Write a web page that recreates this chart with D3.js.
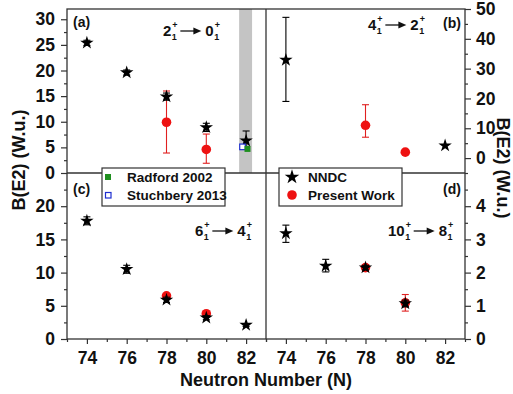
<!DOCTYPE html>
<html><head><meta charset="utf-8">
<script src="https://cdn.jsdelivr.net/npm/d3@7"></script>
<style>
body{margin:0;background:#fff}
svg text{font-family:'Liberation Sans',Arial,sans-serif;font-weight:bold;fill:#111}
</style>
</head><body><svg id="c" width="513" height="394"></svg>
<script>
// ---------- data ----------
const xTicks=[74,76,78,80,82];
const xMinor=[73,75,77,79,81,83];
// (a) 2+ -> 0+
const aNNDC_N=[74,76,78,80,82];
const aNNDC=[25.4,19.6,14.9,8.9,6.3];
const aNNDC_lo=[24.9,19.1,14.2,8.1,4.6];
const aNNDC_hi=[25.9,20.1,15.6,9.7,8.2];
const aPW_N=[78,80];
const aPW=[9.9,4.6];
const aPW_lo=[3.9,1.9];
const aPW_hi=[16.0,7.6];
const radfordN=[82.07], radford=[4.7];
const stuchN=[81.82], stuch=[5.1];
const bandN=[81.65,82.3];
const aTicks=[0,5,10,15,20,25,30], aMinor=[2.5,7.5,12.5,17.5,22.5,27.5];
// (b) 4+ -> 2+
const bNNDC_N=[74,82];
const bNNDC=[32.9,4.2];
const bNNDC_lo=[19.0,4.2];
const bNNDC_hi=[47.2,4.2];
const bPW_N=[78,80];
const bPW=[11.0,2.0];
const bPW_lo=[7.0,2.0];
const bPW_hi=[17.9,2.0];
const bTicks=[0,10,20,30,40,50], bMinor=[-5,5,15,25,35,45];
// (c) 6+ -> 4+
const cNNDC_N=[74,76,78,80,82];
const cNNDC=[17.8,10.5,5.9,3.2,2.1];
const cNNDC_lo=[17.2,9.9,5.5,2.9,1.9];
const cNNDC_hi=[18.4,11.1,6.3,3.5,2.3];
const cPW_N=[78,80];
const cPW=[6.5,3.8];
const cPW_lo=[6.2,3.5];
const cPW_hi=[6.8,4.1];
const cTicks=[0,5,10,15,20], cMinor=[2.5,7.5,12.5,17.5,22.5];
// (d) 10+ -> 8+
const dNNDC_N=[74,76,78,80];
const dNNDC=[3.18,2.2,2.15,1.07];
const dNNDC_lo=[2.91,2.02,2.08,0.97];
const dNNDC_hi=[3.43,2.4,2.22,1.17];
const dPW_N=[78,80];
const dPW=[2.15,1.09];
const dPW_lo=[2.08,0.84];
const dPW_hi=[2.22,1.34];
const dTicks=[0,1,2,3,4], dMinor=[0.5,1.5,2.5,3.5,4.5];

// ---------- layout ----------
const svg=d3.select('#c');
const L=67,M=266,R=465,T=9,H=173,B=339;
const xL=d3.scaleLinear([73,83],[L,M]);
const xR=d3.scaleLinear([73,83],[M,R]);
const yA=d3.scaleLinear([0,32],[H,T]);
const yB=d3.scaleLinear([-5,50],[H,T]);
const yC=d3.scaleLinear([0,25],[B,H]);
const yD=d3.scaleLinear([0,5],[B,H]);
const FRAME='#333';

// gray band
svg.append('rect').attr('x',xL(bandN[0])).attr('y',T).attr('width',xL(bandN[1])-xL(bandN[0])).attr('height',H-T).attr('fill','#c4c4c4');

function axis(gen,tr,major,minor,size,pad,fs){
  const g=svg.append('g').attr('transform',tr);
  g.call(gen.tickValues(major).tickSize(size).tickPadding(pad).tickFormat(d3.format('d')));
  g.select('.domain').remove();
  g.selectAll('line').attr('stroke',FRAME).attr('stroke-width',1.2);
  g.selectAll('text').style('font-size',fs+'px').attr('fill','#111');
  const g2=svg.append('g').attr('transform',tr);
  g2.call(gen.tickValues(minor).tickSize(3).tickFormat(''));
  g2.select('.domain').remove();
  g2.selectAll('line').attr('stroke',FRAME).attr('stroke-width',1.2);
  return g;
}
axis(d3.axisLeft(yA),`translate(${L},0)`,aTicks,aMinor,6,6,17.5);
axis(d3.axisLeft(yC),`translate(${L},0)`,cTicks,cMinor,6,6,17.5);
axis(d3.axisRight(yB),`translate(${R},0)`,bTicks,bMinor,6,5,17.5);
axis(d3.axisRight(yD),`translate(${R},0)`,dTicks,dMinor,6,5,17.5);
axis(d3.axisBottom(xL),`translate(0,${B})`,xTicks,xMinor,5,8,17.5);
axis(d3.axisBottom(xR),`translate(0,${B})`,xTicks,xMinor,5,8,17.5);

// frame
svg.append('rect').attr('x',L).attr('y',T).attr('width',R-L).attr('height',B-T).attr('fill','none').attr('stroke',FRAME).attr('stroke-width',1.3);
svg.append('line').attr('x1',M).attr('x2',M).attr('y1',T).attr('y2',B).attr('stroke',FRAME).attr('stroke-width',1.3);
svg.append('line').attr('x1',L).attr('x2',R).attr('y1',H).attr('y2',H).attr('stroke',FRAME).attr('stroke-width',1.3);

// marks
const star=d3.symbol().type(d3.symbolStar).size(56);
function errbars(x,y,N,lo,hi,color){
  const g=svg.append('g').attr('stroke',color).attr('stroke-width',1.1);
  N.forEach((n,i)=>{
    if(hi[i]-lo[i]<=0) return;
    const cx=x(n);
    g.append('line').attr('x1',cx).attr('x2',cx).attr('y1',y(lo[i])).attr('y2',y(hi[i]));
    g.append('line').attr('x1',cx-3.5).attr('x2',cx+3.5).attr('y1',y(lo[i])).attr('y2',y(lo[i]));
    g.append('line').attr('x1',cx-3.5).attr('x2',cx+3.5).attr('y1',y(hi[i])).attr('y2',y(hi[i]));
  });
}
function circles(x,y,N,v){
  svg.append('g').selectAll('circle').data(N).join('circle')
    .attr('cx',d=>x(d)).attr('cy',(d,i)=>y(v[i])).attr('r',4.8).attr('fill','#ee1111');
}
function stars(x,y,N,v){
  svg.append('g').selectAll('path').data(N).join('path')
    .attr('d',star).attr('transform',(d,i)=>`translate(${x(d)},${y(v[i])})`).attr('fill','#000');
}
function panel(x,y,nN,nv,nlo,nhi,pN,pv,plo,phi){
  errbars(x,y,pN,plo,phi,'#e02020');
  circles(x,y,pN,pv);
  errbars(x,y,nN,nlo,nhi,'#000');
  stars(x,y,nN,nv);
}
panel(xL,yA,aNNDC_N,aNNDC,aNNDC_lo,aNNDC_hi,aPW_N,aPW,aPW_lo,aPW_hi);
// Stuchbery (open blue square) and Radford (green square)
svg.append('g').selectAll('rect').data(stuchN).join('rect')
  .attr('x',d=>xL(d)-2.8).attr('y',(d,i)=>yA(stuch[i])-2.8).attr('width',5.6).attr('height',5.6)
  .attr('fill','#fff').attr('stroke','#1f2fd0').attr('stroke-width',1.2);
svg.append('g').selectAll('rect').data(radfordN).join('rect')
  .attr('x',d=>xL(d)-3).attr('y',(d,i)=>yA(radford[i])-3).attr('width',6).attr('height',6)
  .attr('fill','#1f8f1f');
panel(xR,yB,bNNDC_N,bNNDC,bNNDC_lo,bNNDC_hi,bPW_N,bPW,bPW_lo,bPW_hi);
panel(xL,yC,cNNDC_N,cNNDC,cNNDC_lo,cNNDC_hi,cPW_N,cPW,cPW_lo,cPW_hi);
panel(xR,yD,dNNDC_N,dNNDC,dNNDC_lo,dNNDC_hi,dPW_N,dPW,dPW_lo,dPW_hi);

// panel letters
[['(a)',73,27,'start'],['(b)',461,28,'end'],['(c)',73,194,'start'],['(d)',461,194,'end']].forEach(p=>{
  svg.append('text').attr('x',p[1]).attr('y',p[2]).attr('text-anchor',p[3]).style('font-size','14px').text(p[0]);
});

// transition labels
function trans(x,y,a,b){
  const g=svg.append('g');
  let cx=x;
  function level(v){
    const t=g.append('text').attr('x',cx).attr('y',y).style('font-size','15px').text(v);
    cx+=t.node().getComputedTextLength();
    g.append('text').attr('x',cx+0.5).attr('y',y+4).style('font-size','9px').text('1');
    g.append('text').attr('x',cx+1).attr('y',y-8).style('font-size','9px').text('+');
    cx+=7;
  }
  level(a);
  g.append('line').attr('x1',cx+2).attr('x2',cx+18).attr('y1',y-5).attr('y2',y-5).attr('stroke','#111').attr('stroke-width',1.3);
  g.append('path').attr('d',`M${cx+23},${y-5} L${cx+15},${y-8.5} L${cx+15},${y-1.5} Z`).attr('fill','#111');
  cx+=27;
  level(b);
}
trans(163,36,'2','0');
trans(368,30,'4','2');
trans(195,236,'6','4');
trans(388,236,'10','8');

// legends
function legend(x,y,w,h){
  svg.append('rect').attr('x',x).attr('y',y).attr('width',w).attr('height',h).attr('fill','#fff').attr('stroke',FRAME).attr('stroke-width',1.2);
}
legend(102,168,123,38);
legend(279,168,123,38);
svg.append('rect').attr('x',105).attr('y',174).attr('width',6).attr('height',6).attr('fill','#1f8f1f');
svg.append('rect').attr('x',105.5).attr('y',192.5).attr('width',5.5).attr('height',5.5).attr('fill','#fff').attr('stroke','#1f2fd0').attr('stroke-width',1.2);
svg.append('text').attr('x',127).attr('y',182).style('font-size','13.5px').text('Radford 2002');
svg.append('text').attr('x',127).attr('y',200).style('font-size','13.5px').text('Stuchbery 2013');
svg.append('path').attr('d',d3.symbol().type(d3.symbolStar).size(66)()).attr('transform','translate(292,177)').attr('fill','#000');
svg.append('circle').attr('cx',292).attr('cy',195).attr('r',4.8).attr('fill','#ee1111');
svg.append('text').attr('x',308).attr('y',182).style('font-size','13.5px').text('NNDC');
svg.append('text').attr('x',308).attr('y',200).style('font-size','13.5px').text('Present Work');

// axis titles
svg.append('text').attr('transform','translate(25,160) rotate(-90)').attr('text-anchor','middle').style('font-size','18px').text('B(E2) (W.u.)');
svg.append('text').attr('transform','translate(497,168) rotate(90)').attr('text-anchor','middle').style('font-size','18px').text('B(E2) (W.u.)');
svg.append('text').attr('x',266).attr('y',386).attr('text-anchor','middle').style('font-size','18px').text('Neutron Number (N)');
</script></body></html>
